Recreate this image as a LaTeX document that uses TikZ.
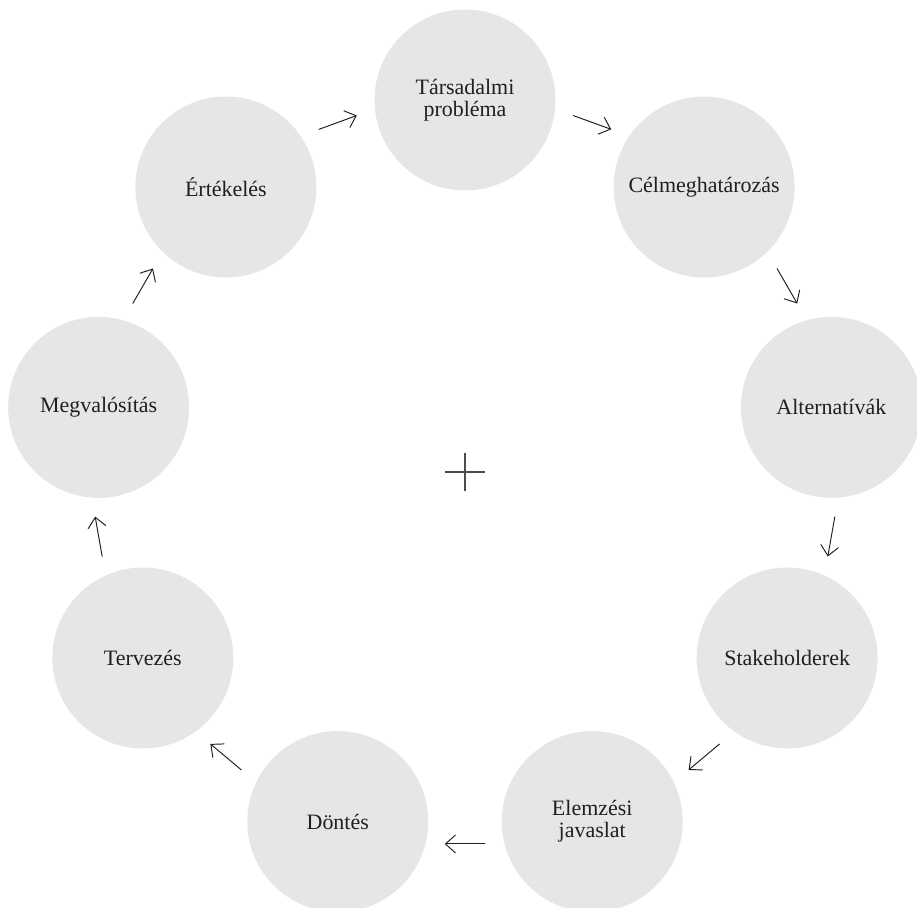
\documentclass[tikz,border=0pt]{standalone}
\usepackage{fontspec}
\setmainfont{Liberation Serif}
\usetikzlibrary{arrows.meta}

\definecolor{discfill}{RGB}{229,230,232}
\definecolor{inktext}{RGB}{35,31,32}

\begin{document}
\begin{tikzpicture}[
    x=0.02cm, y=0.02cm,
    every node/.style={font=\fontsize{12.5}{12.5}\selectfont, text=inktext},
    stage/.style={circle, fill=discfill, minimum size=3.62cm, inner sep=0pt, align=center},
    arrow/.style={-{Straight Barb[length=2mm, width=3.6mm]}, line width=0.55pt, draw=inktext, shorten <=2.14cm, shorten >=2.14cm},
    plus/.style={line width=0.7pt, draw=black!70},
]
\useasboundingbox (-465,-436) rectangle (452,472);

% Stages on the cycle
\node[stage] (tars) at (90:372) {Társadalmi\\probléma};
\node[stage] (celm) at (50:372) {Célmeghatározás};
\node[stage] (alt) at (10:372) {Alternatívák};
\node[stage] (stake) at (-30:372) {Stakeholderek};
\node[stage] (elem) at (-70:372) {Elemzési\\javaslat};
\node[stage] (dont) at (-110:372) {Döntés};
\node[stage] (terv) at (-150:372) {Tervezés};
\node[stage] (megv) at (170:372) {Megvalósítás};
\node[stage] (ertek) at (130:372) {Értékelés};

% Arrows
\draw[arrow] ([shift={(70:22.4)}]tars.center) -- ([shift={(70:22.4)}]celm.center);
\draw[arrow] ([shift={(30:22.4)}]celm.center) -- ([shift={(30:22.4)}]alt.center);
\draw[arrow] ([shift={(-10:22.4)}]alt.center) -- ([shift={(-10:22.4)}]stake.center);
\draw[arrow] ([shift={(-50:22.4)}]stake.center) -- ([shift={(-50:22.4)}]elem.center);
\draw[arrow] ([shift={(-90:22.4)}]elem.center) -- ([shift={(-90:22.4)}]dont.center);
\draw[arrow] ([shift={(-130:22.4)}]dont.center) -- ([shift={(-130:22.4)}]terv.center);
\draw[arrow] ([shift={(-170:22.4)}]terv.center) -- ([shift={(-170:22.4)}]megv.center);
\draw[arrow] ([shift={(150:22.4)}]megv.center) -- ([shift={(150:22.4)}]ertek.center);
\draw[arrow] ([shift={(110:22.4)}]ertek.center) -- ([shift={(110:22.4)}]tars.center);

% Centre mark
\coordinate (hub) at (0,0);
\draw[plus] (hub) ++(-20,0) -- ++(40,0);
\draw[plus] (hub) ++(0,-19) -- ++(0,38);

\end{tikzpicture}
\end{document}
